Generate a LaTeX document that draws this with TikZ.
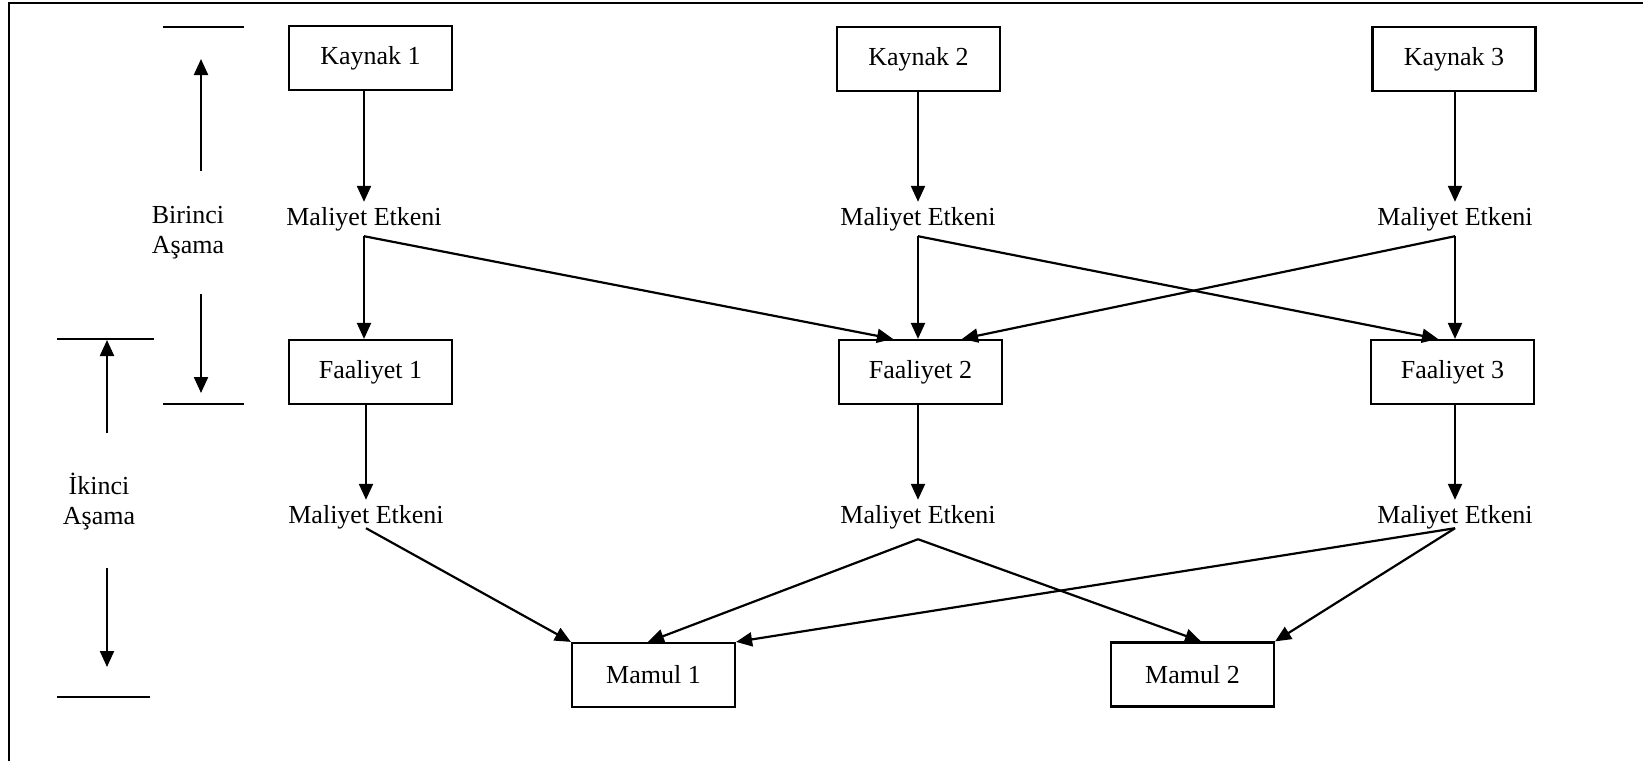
\documentclass[tikz,border=0pt]{standalone}
\usepackage{fontspec}
\setmainfont{Liberation Serif}
\usetikzlibrary{arrows.meta}
\begin{document}
\begin{tikzpicture}[x=1pt,y=-1pt,
  every node/.style={font=\fontsize{26}{30}\selectfont},
  stepbox/.style={draw,line width=2.2pt,minimum width=163pt,minimum height=64pt,inner sep=0pt},
  driver/.style={inner sep=0pt,minimum height=34pt},
  stage/.style={align=center,inner sep=0pt},
  arr/.style={line width=2.2pt,-{Triangle[length=16pt,width=14pt]}},
  rule/.style={line width=2.2pt}]
\useasboundingbox (0,0) rectangle (1643,761);

% outer frame (top and left edges)
\draw[rule] (9,761) -- (9,3) -- (1643,3);

% resources
\node[stepbox] (k1) at (370.5,58) {Kaynak 1};
\node[stepbox] (k2) at (918.5,59) {Kaynak 2};
\node[stepbox] (k3) at (1454,59) {Kaynak 3};

% first-stage cost drivers
\node[driver] (me1) at (364,219) {Maliyet Etkeni};
\node[driver] (me2) at (918,219) {Maliyet Etkeni};
\node[driver] (me3) at (1455,219) {Maliyet Etkeni};

% activities
\node[stepbox] (f1) at (370.5,372) {Faaliyet 1};
\node[stepbox] (f2) at (920.5,372) {Faaliyet 2};
\node[stepbox] (f3) at (1452.5,372) {Faaliyet 3};

% second-stage cost drivers
\node[driver] (me4) at (366,517) {Maliyet Etkeni};
\node[driver] (me5) at (918,517) {Maliyet Etkeni};
\node[driver] (me6) at (1455,517) {Maliyet Etkeni};

% products
\node[stepbox] (m1) at (653.5,675) {Mamul 1};
\node[stepbox] (m2) at (1192.5,674.5) {Mamul 2};

% stage labels
\node[stage] (s1) at (188,233) {Birinci\\Aşama};
\node[stage] (s2) at (99,502) {İkinci\\Aşama};

% resources -> first drivers
\draw[arr] (k1.south -| me1.north) -- (me1.north);
\draw[arr] (k2.south -| me2.north) -- (me2.north);
\draw[arr] (k3.south -| me3.north) -- (me3.north);

% first drivers -> activities
\draw[arr] (me1.south) -- (f1.north -| me1.south);
\draw[arr] (me1.south) -- ([xshift=-27.5pt]f2.north);
\draw[arr] (me2.south) -- (f2.north -| me2.south);
\draw[arr] (me2.south) -- ([xshift=-14.5pt]f3.north);
\draw[arr] (me3.south) -- ([xshift=41.5pt]f2.north);
\draw[arr] (me3.south) -- (f3.north -| me3.south);

% activities -> second drivers
\draw[arr] (f1.south -| me4.north) -- (me4.north);
\draw[arr] (f2.south -| me5.north) -- (me5.north);
\draw[arr] (f3.south -| me6.north) -- (me6.north);

% second drivers -> products
\draw[arr] ([yshift=6pt]me4.south) -- (m1.north west);
\draw[arr] ([yshift=-5pt]me5.south) -- ([xshift=-5.5pt]m1.north);
\draw[arr] ([yshift=-5pt]me5.south) -- ([xshift=8.5pt]m2.north);
\draw[arr] ([yshift=6pt]me6.south) -- (m1.north east);
\draw[arr] ([yshift=6pt]me6.south) -- (m2.north east);

% first stage extent markers
\coordinate (a1l) at (163,27);   \coordinate (a1r) at (244,27);
\coordinate (b1l) at (163,404);  \coordinate (b1r) at (244,404);
\coordinate (u1a) at (201,171);  \coordinate (u1b) at (201,59);
\coordinate (d1a) at (201,294);  \coordinate (d1b) at (201,393);
\draw[rule] (a1l) -- (a1r);
\draw[rule] (b1l) -- (b1r);
\draw[arr] (u1a) -- (u1b);
\draw[arr] (d1a) -- (d1b);

% second stage extent markers
\coordinate (a2l) at (57,339);   \coordinate (a2r) at (154,339);
\coordinate (b2l) at (57,697);   \coordinate (b2r) at (150,697);
\coordinate (u2a) at (107,433);  \coordinate (u2b) at (107,340);
\coordinate (d2a) at (107,568);  \coordinate (d2b) at (107,667);
\draw[rule] (a2l) -- (a2r);
\draw[rule] (b2l) -- (b2r);
\draw[arr] (u2a) -- (u2b);
\draw[arr] (d2a) -- (d2b);
\end{tikzpicture}
\end{document}
